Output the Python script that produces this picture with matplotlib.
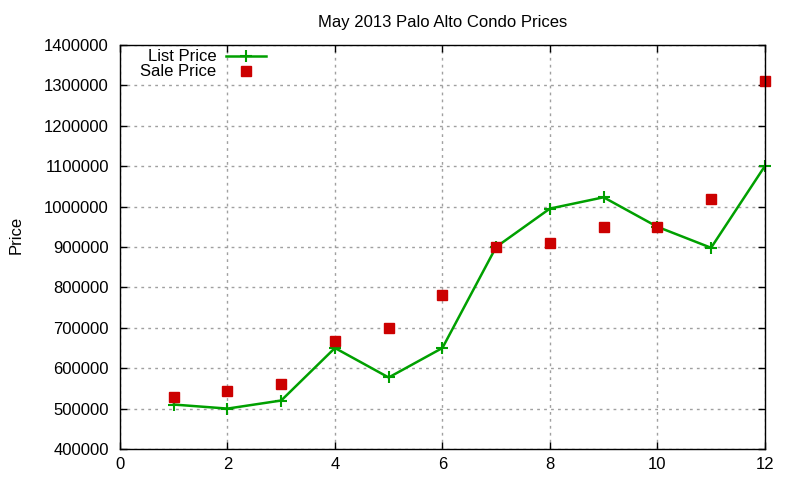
import numpy as np
import matplotlib
matplotlib.use('Agg')
import matplotlib.pyplot as plt

plt.rcParams['font.family'] = ['Liberation Sans', 'DejaVu Sans']
plt.rcParams['font.size'] = 12

months = [1, 2, 3, 4, 5, 6, 7, 8, 9, 10, 11, 12]
list_price = [510000, 500000, 520000, 650000, 577000, 650000,
              900000, 995000, 1023000, 950000, 898000, 1100000]
sale_price = [528000, 543000, 562000, 668000, 700000, 780000,
              900000, 910000, 950000, 950000, 1020000, 1310000]

fig = plt.figure(figsize=(8, 4.8), dpi=100)
ax = fig.add_axes([0.15, 0.0646, 0.806, 0.8417])

ax.plot(months, list_price, color='#00a000', linewidth=1.8, marker='+',
        markersize=9, markeredgewidth=1.5, label='List Price', clip_on=False)
ax.plot(months, sale_price, linestyle='none', color='#cc0000', marker='s',
        markersize=6.5, label='Sale Price', clip_on=False)

ax.set_xlim(0, 12)
ax.set_ylim(400000, 1400000)
ax.set_xticks(np.arange(0, 13, 2))
ax.set_yticks(np.arange(400000, 1400001, 100000))
ax.ticklabel_format(axis='y', style='plain', useOffset=False)
ax.tick_params(direction='in', top=True, right=True, length=5, width=1)
ax.tick_params(axis='y', pad=8)
ax.tick_params(axis='x', pad=6)
ax.grid(True, color='#a0a0a0', linestyle=(0, (2, 3)), linewidth=1)
for s in ax.spines.values():
    s.set_linewidth(1)

ax.set_title('May 2013 Palo Alto Condo Prices', fontsize=12, pad=13)
fig.text(0.02, 0.51, 'Price', rotation=90, va='center', ha='center')

leg = ax.legend(loc='upper left', bbox_to_anchor=(0.013, 1.018), frameon=False,
                markerfirst=False, handlelength=2.4, handletextpad=0.6,
                labelspacing=0.0, borderpad=0.2)
for t in leg.get_texts():
    t.set_ha('right')

fig.savefig('out.png', dpi=100)
